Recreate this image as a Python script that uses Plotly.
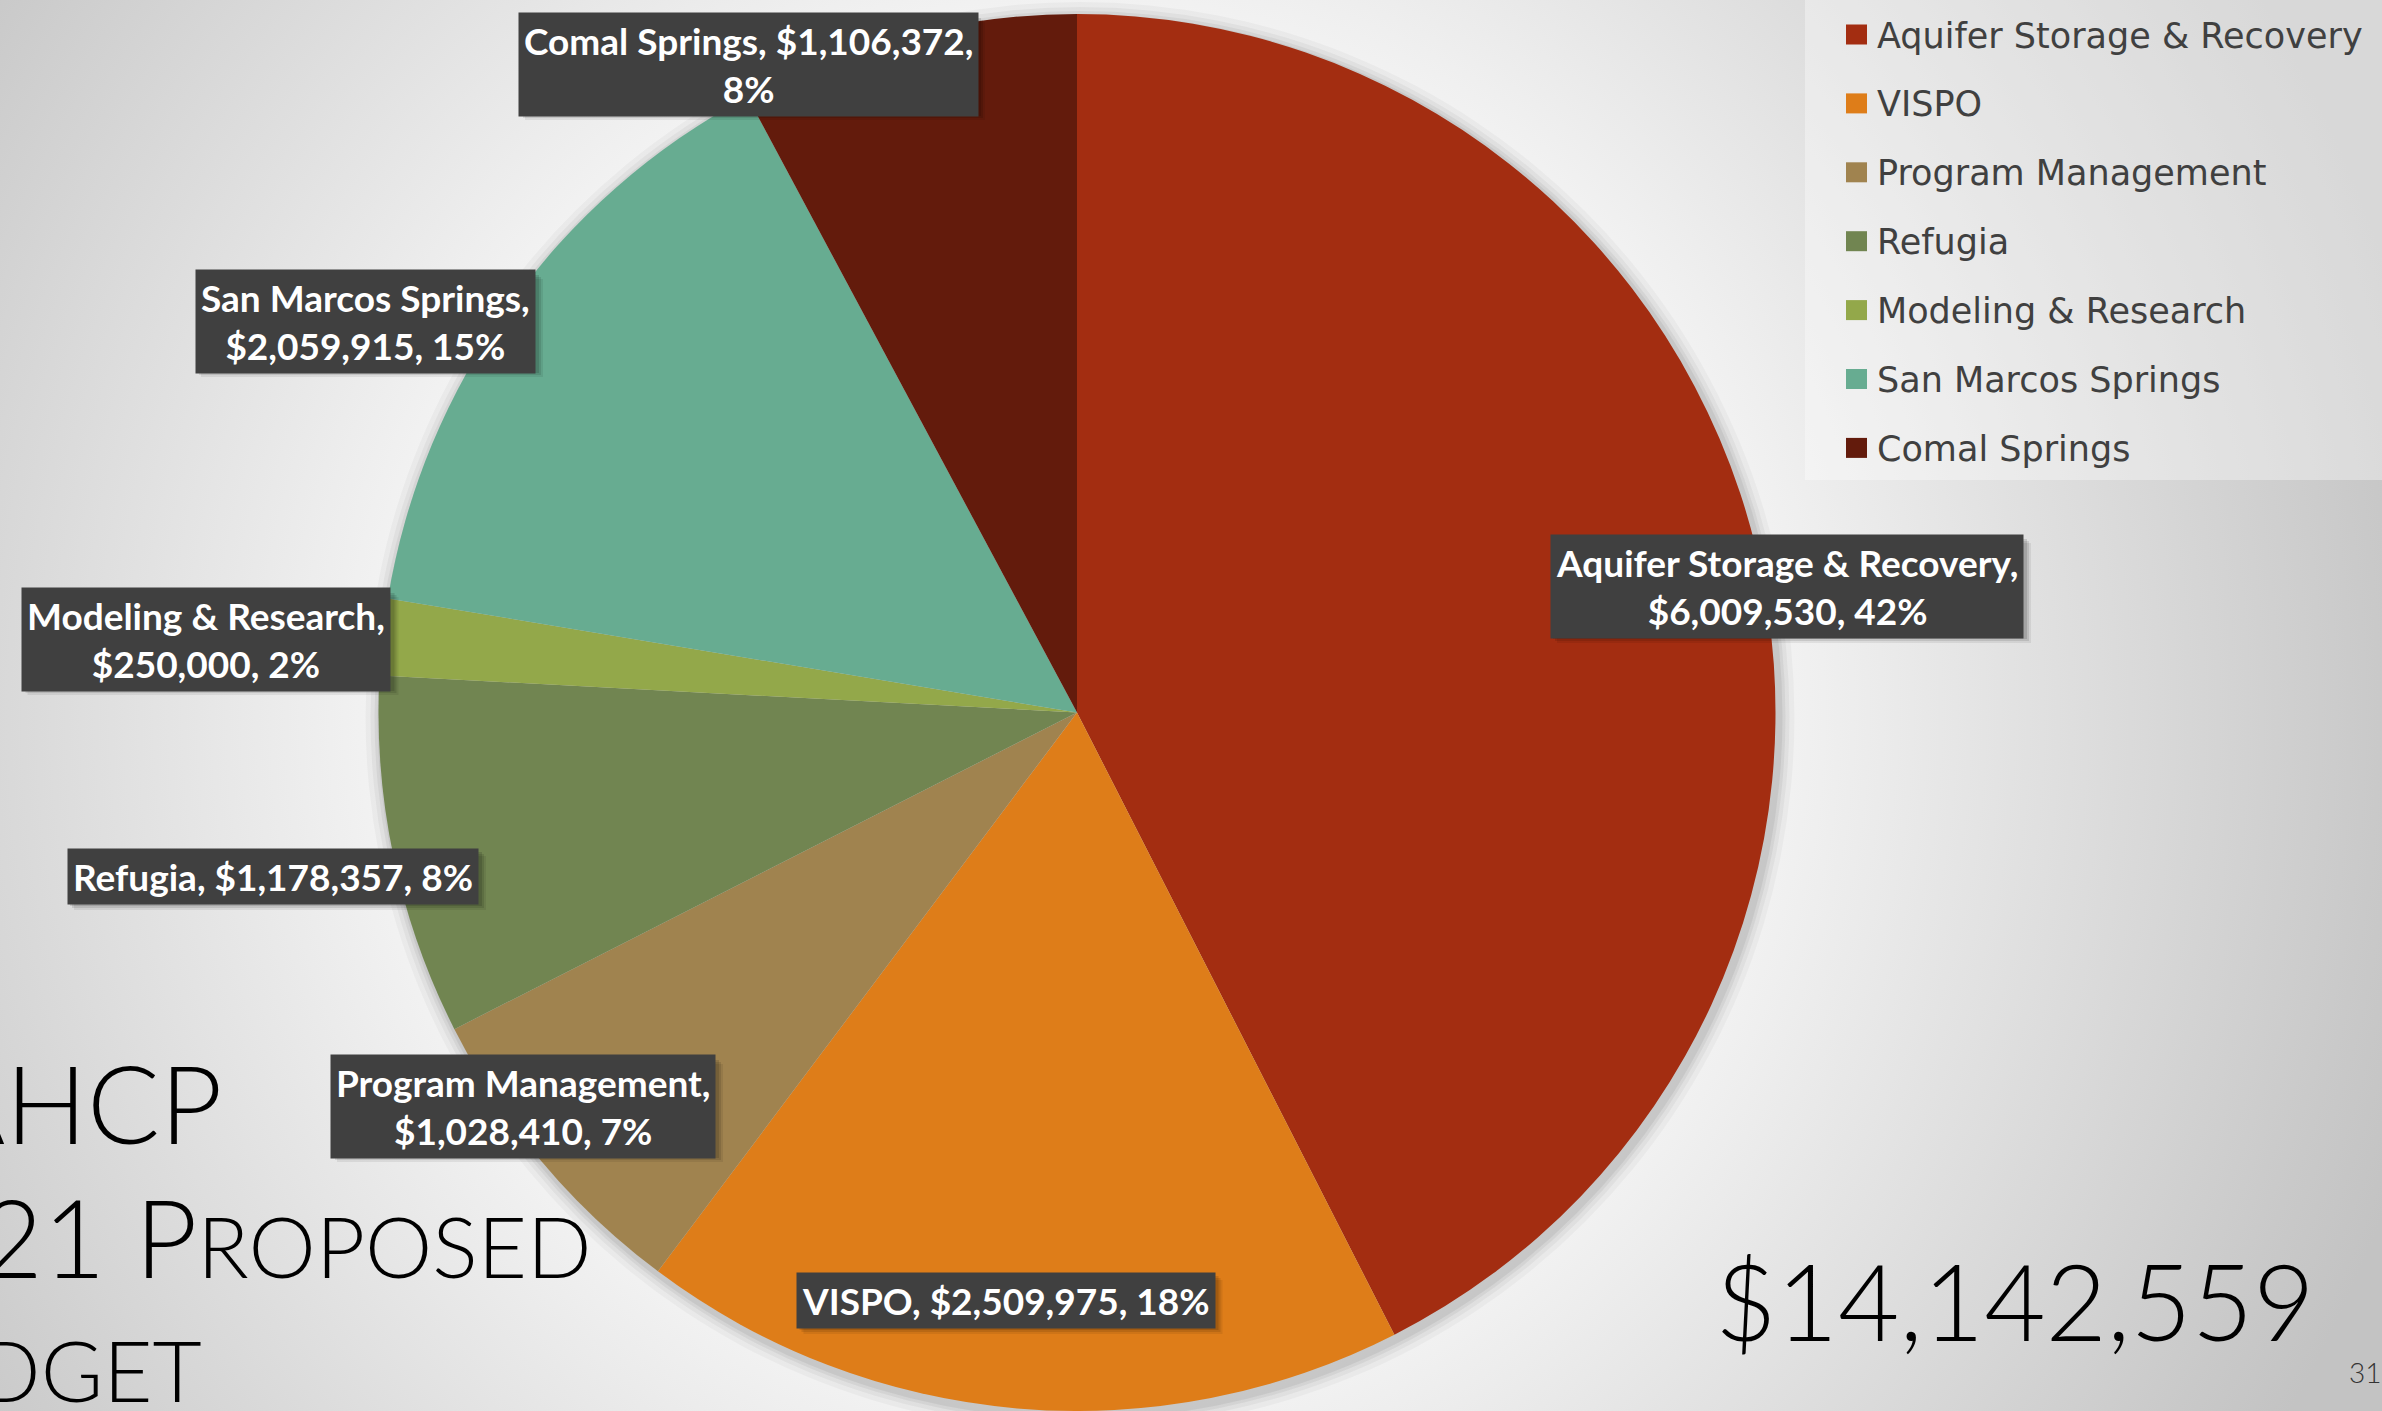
import base64
import plotly.graph_objects as go

# ---------------- data ----------------
categories = ["Aquifer Storage & Recovery", "VISPO", "Program Management", "Refugia",
              "Modeling & Research", "San Marcos Springs", "Comal Springs"]
budget = [6009530, 2509975, 1028410, 1178357, 250000, 2059915, 1106372]
colors = ["#A32D11", "#DE7D19", "#A0834F", "#718551", "#93A84A", "#67AC91", "#631B0C"]

total_text = "$14,142,559"
title_lines = ["EAHCP",
               "2021 P<span style='font-size:85px'>ROPOSED</span>",
               "B<span style='font-size:85px'>UDGET</span>"]
page_number = "31"

# ---------------- layout helpers (pixels) ----------------
W, H = 2382, 1411
TOP = 14
R = (H - TOP) / 2.0
CX, CY = 1077.0, TOP + R

def px(x):
    return x / W

def py(y):
    return 1 - y / H

# label box centres, approximate box sizes (for the drop shadow) and line-break style
label_pos = [(1787, 586), (1006, 1300), (523, 1106), (273, 876), (206, 639), (365, 321), (748, 64)]
label_box = [(474, 100), (419, 54), (386, 98), (412, 54), (371, 98), (342, 98), (460, 98)]
label_break = ["name", "none", "name", "none", "name", "name", "value"]

total = sum(budget)

def label_text(i):
    name, v = categories[i], budget[i]
    pct = round(v / total * 100)
    if label_break[i] == "name":
        return f"{name},<br>${v:,}, {pct}%"
    if label_break[i] == "value":
        return f"{name}, ${v:,},<br>{pct}%"
    return f"{name}, ${v:,}, {pct}%"

fig = go.Figure()
fig.add_trace(go.Pie(
    labels=categories, values=budget, sort=False, direction="clockwise", rotation=0,
    marker=dict(colors=colors, line=dict(width=0)),
    textinfo="none", showlegend=False,
    domain=dict(x=[px(CX - R), px(CX + R)], y=[0, 1 - TOP / H]),
    hovertemplate="%{label}<br>$%{value:,}<br>%{percent}<extra></extra>",
))

# background radial gradient (as svg image)
svg = f'''<svg xmlns="http://www.w3.org/2000/svg" width="{W}" height="{H}" viewBox="0 0 {W} {H}">
<defs><radialGradient id="g" cx="{CX}" cy="{CY}" r="1400" gradientUnits="userSpaceOnUse">
<stop offset="0" stop-color="#ffffff"/><stop offset="0.45" stop-color="#f7f7f7"/>
<stop offset="0.93" stop-color="#c9c9c9"/><stop offset="1" stop-color="#c3c3c3"/>
</radialGradient></defs>
<rect x="0" y="0" width="{W}" height="{H}" fill="url(#g)"/></svg>'''
bg_src = "data:image/svg+xml;base64," + base64.b64encode(svg.encode()).decode()

shapes = []
# soft shadow around the pie
for d, a in [(16, 0.03), (11, 0.04), (7, 0.05), (4, 0.06)]:
    shapes.append(dict(type="circle", xref="paper", yref="paper", layer="below",
                       x0=px(CX - R - d + 3), x1=px(CX + R + d + 3),
                       y0=py(CY + R + d + 4), y1=py(CY - R - d + 4),
                       fillcolor=f"rgba(0,0,0,{a})", line=dict(width=0)))

# legend panel
shapes.append(dict(type="rect", xref="paper", yref="paper", layer="below",
                   x0=px(1805), x1=1, y0=py(480), y1=1,
                   fillcolor="rgba(255,255,255,0.35)", line=dict(width=0)))

# drop shadows behind the data-label boxes
for (x, y), (bw, bh) in zip(label_pos, label_box):
    for off, a in [(3, 0.12), (5, 0.10), (7, 0.07)]:
        shapes.append(dict(type="rect", xref="paper", yref="paper", layer="above",
                           x0=px(x - bw / 2 + off), x1=px(x + bw / 2 + off),
                           y0=py(y + bh / 2 + off), y1=py(y - bh / 2 + off),
                           fillcolor=f"rgba(0,0,0,{a})", line=dict(width=0)))

annotations = []
LEG_Y0, LEG_DY = 34.5, 68.9
for i, name in enumerate(categories):
    yc = LEG_Y0 + LEG_DY * i
    shapes.append(dict(type="rect", xref="paper", yref="paper",
                       x0=px(1846), x1=px(1867), y0=py(yc + 10), y1=py(yc - 10),
                       fillcolor=colors[i], line=dict(width=0)))
    annotations.append(dict(x=px(1875), y=py(yc + 1), xref="paper", yref="paper",
                            text=name, showarrow=False, xanchor="left", yanchor="middle",
                            font=dict(family="DejaVu Sans", size=35, color="#404040")))

# data labels
for i in range(len(categories)):
    x, y = label_pos[i]
    annotations.append(dict(x=px(x), y=py(y), xref="paper", yref="paper",
                            text=label_text(i), showarrow=False,
                            xanchor="center", yanchor="middle", align="center",
                            bgcolor="#404040", borderpad=5,
                            font=dict(family="Lato", size=37, color="white", weight="bold")))

# slide title (partly cut off at left edge, as in the slide)
title_right = [224, 594, 204]
title_mid = [1102, 1236, 1360]
for t, xr, ym in zip(title_lines, title_right, title_mid):
    annotations.append(dict(x=px(xr), y=py(ym), xref="paper", yref="paper",
                            text=t, showarrow=False, xanchor="right", yanchor="middle",
                            font=dict(family="Lato", size=108, color="#000000", weight=300)))

# total
annotations.append(dict(x=px(2015), y=py(1300), xref="paper", yref="paper",
                        text=total_text, showarrow=False, xanchor="center", yanchor="middle",
                        font=dict(family="Lato", size=106, color="#000000", weight=300)))
annotations.append(dict(x=px(2347), y=py(1372), xref="paper", yref="paper",
                        text=page_number, showarrow=False, xanchor="left", yanchor="middle",
                        font=dict(family="Lato", size=28, color="#333333", weight=300)))

fig.update_layout(
    width=W, height=H, autosize=False,
    margin=dict(l=0, r=0, t=0, b=0, pad=0),
    paper_bgcolor="#d9d9d9", plot_bgcolor="#d9d9d9",
    images=[dict(source=bg_src, xref="paper", yref="paper", x=0, y=1, sizex=1, sizey=1,
                 xanchor="left", yanchor="top", sizing="stretch", layer="below")],
    shapes=shapes, annotations=annotations, showlegend=False,
)

fig.write_html("out.html", config={"displayModeBar": False},
               post_script="document.body.style.margin='0';document.body.style.overflow='hidden';")
